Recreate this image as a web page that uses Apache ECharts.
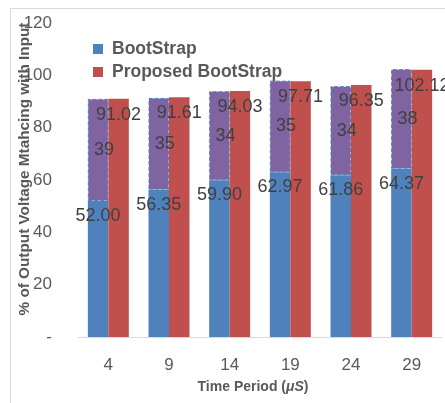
<!DOCTYPE html>
<html>
<head>
<meta charset="utf-8">
<script src="https://cdn.jsdelivr.net/npm/echarts@6/dist/echarts.min.js"></script>
<style>
html,body{margin:0;padding:0;background:#fff;}
#chart{width:445px;height:403px;}
</style>
</head>
<body>
<div id="chart"></div>
<script>
var categories = ['4', '9', '14', '19', '24', '29'];
var bootStrap = [52.00, 56.35, 59.90, 62.97, 61.86, 64.37];
var difference = [39, 35, 34, 35, 34, 38];
var proposed = [91.02, 91.61, 94.03, 97.71, 96.35, 102.12];
var yTicks = { min: 0, max: 120, interval: 20 };

var chart = echarts.init(document.getElementById('chart'), null, { renderer: 'canvas' });
var FONT = 'Liberation Sans';
var labelStyle = { color: '#404040', fontSize: 18, fontFamily: FONT };

chart.setOption({
  animation: false,
  backgroundColor: '#ffffff',
  graphic: [
    { type: 'line', shape: { x1: 10.5, y1: 8.5, x2: 445, y2: 8.5 }, style: { stroke: '#d9d9d9', lineWidth: 1 }, silent: true },
    { type: 'line', shape: { x1: 10.5, y1: 8.5, x2: 10.5, y2: 403 }, style: { stroke: '#d9d9d9', lineWidth: 1 }, silent: true }
  ],
  legend: {
    orient: 'vertical',
    left: 93,
    top: 40,
    padding: 0,
    icon: 'rect',
    itemWidth: 10,
    itemHeight: 10,
    itemGap: 5,
    data: ['BootStrap', 'Proposed BootStrap'],
    textStyle: { color: '#595959', fontSize: 17.5, fontWeight: 'bold', fontFamily: FONT, lineHeight: 17, padding: [0, 0, 0, 4] }
  },
  grid: { left: 78, right: 3, top: 23, bottom: 66, containLabel: false, outerBoundsMode: 'none' },
  xAxis: {
    type: 'category',
    data: categories,
    axisLine: { show: true, lineStyle: { color: '#d9d9d9', width: 1 } },
    axisTick: { show: false },
    axisLabel: { color: '#595959', fontSize: 17, fontFamily: FONT, margin: 20 },
    name: 'Time Period ({i|μS})',
    nameLocation: 'middle',
    nameGap: 43,
    nameMoveOverlap: false,
    nameTextStyle: {
      color: '#595959', fontSize: 14, fontWeight: 'bold', fontFamily: FONT, padding: [0, 14, 0, 0],
      rich: { i: { fontStyle: 'italic', fontWeight: 'bold', fontSize: 14, color: '#595959', fontFamily: FONT } }
    }
  },
  yAxis: {
    type: 'value',
    min: yTicks.min,
    max: yTicks.max,
    interval: yTicks.interval,
    splitLine: { show: false },
    axisLine: { show: false },
    axisTick: { show: false },
    axisLabel: {
      color: '#595959', fontSize: 17, fontFamily: FONT, margin: 26,
      formatter: function (v) { return v === 0 ? '-' : String(v); }
    },
    name: '% of Output Voltage Mtahcing with Input',
    nameLocation: 'middle',
    nameGap: 46,
    nameMoveOverlap: false,
    nameTextStyle: { color: '#595959', fontSize: 15.3, fontWeight: 'bold', fontFamily: FONT, padding: [0, 0, 0, 22] }
  },
  series: [
    {
      name: 'BootStrap',
      type: 'bar',
      stack: 'boot',
      data: bootStrap,
      barWidth: 20.5,
      barGap: '0%',
      itemStyle: { color: '#4F81BD' },
      label: {
        show: true, position: 'insideTop', distance: 6,
        formatter: function (p) { return p.value.toFixed(2); },
        color: labelStyle.color, fontSize: labelStyle.fontSize, fontFamily: FONT
      }
    },
    {
      name: 'Difference',
      type: 'bar',
      stack: 'boot',
      data: difference,
      barWidth: 20.5,
      itemStyle: { color: '#8064A2', borderColor: '#4F81BD', borderWidth: 1, borderType: 'dashed' },
      label: {
        show: true, position: 'inside', offset: [6, 0],
        formatter: function (p) { return String(p.value); },
        color: labelStyle.color, fontSize: labelStyle.fontSize, fontFamily: FONT
      }
    },
    {
      name: 'Proposed BootStrap',
      type: 'bar',
      data: proposed,
      barWidth: 20.5,
      barGap: '0%',
      itemStyle: { color: '#C0504D' },
      label: {
        show: true, position: 'insideTop', distance: 7,
        formatter: function (p) { return p.value.toFixed(2); },
        color: labelStyle.color, fontSize: labelStyle.fontSize, fontFamily: FONT
      }
    }
  ]
});
</script>
</body>
</html>
